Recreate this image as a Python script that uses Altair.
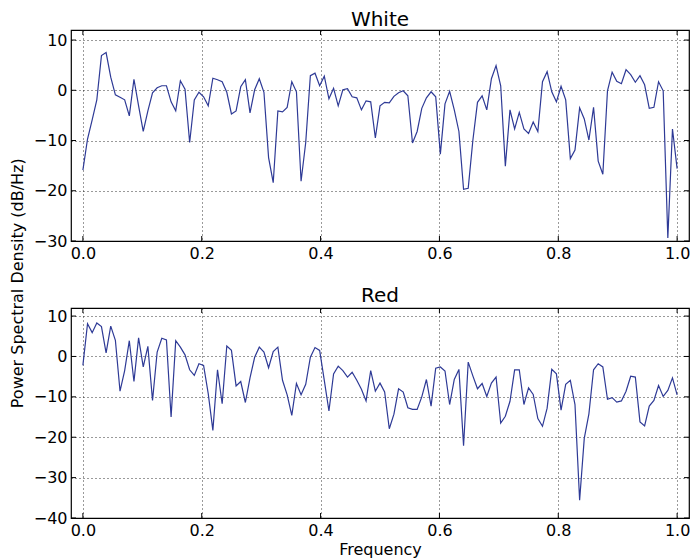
import altair as alt
import numpy as np
import pandas as pd

freq = list(np.linspace(0, 1, 129))

white_psd = [
    -15.9, -9.7, -5.9, -1.9, 6.9, 7.5, 2.6, -0.9, -1.4, -1.9,
    -5.1, 2.2, -3.1, -8.2, -4.1, -0.5, 0.5, 0.9, 0.9, -2.3,
    -4.1, 1.9, 0.2, -10.4, -1.9, -0.4, -1.3, -3.1, 2.4, 2.1,
    1.7, -0.4, -4.7, -4.1, 0.7, 2.1, -4.5, 0.1, 2.3, -0.4,
    -13.4, -18.4, -4.1, -4.3, -3.4, 1.7, -0.3, -18.1, -10.4, 2.9,
    3.4, 0.9, 2.8, -1.7, 0.4, -3.1, 0.1, 0.3, -1.3, -1.5,
    -3.9, -2.1, -2.3, -9.5, -3.1, -2.4, -2.5, -1.2, -0.5, -0.1,
    -1.1, -10.5, -8.2, -3.6, -1.5, -0.3, -1.3, -12.7, -2.7, -0.2,
    -3.9, -8.2, -19.7, -19.5, -10.0, -2.4, -1.1, -3.9, 2.3, 4.9,
    0.9, -15.1, -3.9, -7.7, -4.4, -7.7, -8.6, -6.3, -8.2, 1.7,
    3.7, -0.3, -2.3, 0.8, -1.9, -13.6, -11.9, -3.5, -5.7, -9.9,
    -3.4, -14.1, -16.7, -0.1, 3.6, 1.8, 1.3, 4.1, 3.1, 1.6,
    2.9, 1.1, -3.6, -3.4, 1.7, -0.1, -29.4, -7.7, -15.6,
]

red_psd = [
    -2.2, 8.1, 5.9, 8.3, 7.4, 0.9, 7.5, 4.0, -8.6, -3.5,
    3.9, -6.2, 4.6, -2.6, 2.5, -10.9, 1.1, 4.5, 4.1, -15.0,
    3.9, 2.3, 0.4, -3.3, -4.7, -1.8, -2.2, -9.2, -18.3, -3.3,
    -11.7, 2.6, 1.5, -7.3, -6.2, -11.4, -5.3, -0.2, 2.3, 1.1,
    -2.8, 1.2, 2.3, -5.9, -9.5, -14.6, -6.7, -9.5, -6.9, -0.2,
    2.2, 1.5, -5.9, -13.5, -4.3, -2.4, -3.5, -5.1, -3.9, -5.9,
    -8.1, -11.0, -3.5, -8.6, -6.6, -8.8, -17.9, -14.3, -8.0, -8.8,
    -12.7, -13.1, -13.1, -10.0, -5.7, -12.3, -2.9, -2.6, -3.6, -11.9,
    -5.7, -3.2, -22.1, -1.4, -4.8, -8.0, -6.7, -9.9, -6.6, -5.1,
    -16.5, -14.8, -11.1, -3.3, -3.3, -11.9, -7.8, -9.4, -15.4, -17.3,
    -12.8, -3.2, -4.3, -13.3, -6.9, -5.9, -11.9, -35.6, -20.3, -14.2,
    -3.3, -1.8, -2.6, -10.6, -10.2, -11.3, -11.0, -8.6, -4.9, -5.1,
    -16.2, -17.2, -12.3, -10.9, -7.2, -9.9, -8.4, -5.3, -9.5,
]

x_ticks = [0.0, 0.2, 0.4, 0.6, 0.8, 1.0]
white_y_ticks = [-30, -20, -10, 0, 10]
red_y_ticks = [-40, -30, -20, -10, 0, 10]

W = 618
LINE_COLOR = "#2e3a96"
FONT = "DejaVu Sans"


def panel(values, yticks, ydomain, height, title, xtitle, title_offset):
    df = pd.DataFrame({"f": freq, "v": values})
    xscale = alt.Scale(domain=[-0.02, 1.02], nice=False, zero=False)
    yscale = alt.Scale(domain=ydomain, nice=False, zero=False)
    xaxis = alt.Axis(values=x_ticks, format=".1f", title=xtitle)
    yaxis = alt.Axis(values=yticks, format="d", title=None)
    xenc = alt.X("f:Q", scale=xscale, axis=xaxis, title=xtitle)
    yenc = alt.Y("v:Q", scale=yscale, axis=yaxis, title=None)
    line = alt.Chart(df).mark_line(color=LINE_COLOR, strokeWidth=1.2).encode(
        x=xenc, y=yenc)
    xt = pd.DataFrame({"f": x_ticks})
    yt = pd.DataFrame({"v": yticks})
    tb = alt.Chart(xt).mark_rule(color="black", strokeWidth=1).encode(
        x=xenc, y=alt.value(height - 5), y2=alt.value(height))
    tt = alt.Chart(xt).mark_rule(color="black", strokeWidth=1).encode(
        x=xenc, y=alt.value(0), y2=alt.value(5))
    tl = alt.Chart(yt).mark_rule(color="black", strokeWidth=1).encode(
        y=yenc, x=alt.value(0), x2=alt.value(5))
    tr = alt.Chart(yt).mark_rule(color="black", strokeWidth=1).encode(
        y=yenc, x=alt.value(W - 5), x2=alt.value(W))
    return alt.layer(line, tb, tt, tl, tr).properties(
        width=W, height=height,
        title=alt.TitleParams(title, fontSize=20, font=FONT,
                              fontWeight="normal", offset=title_offset),
    )


top = panel(white_psd, white_y_ticks, [-30, 12], 211, "White", None, 0)
bottom = panel(red_psd, red_y_ticks, [-40, 12], 210, "Red", "Frequency", 2)

chart = alt.vconcat(top, bottom, spacing=22).properties(
    title=alt.TitleParams("Power Spectral Density (dB/Hz)", orient="left",
                          anchor="middle", fontSize=16, font=FONT,
                          fontWeight="normal", offset=7),
    padding={"left": 1, "top": 0, "right": 0, "bottom": 0},
).configure(font=FONT).configure_axis(
    labelFont=FONT, labelFontSize=16, labelColor="black",
    titleFont=FONT, titleFontSize=16, titleFontWeight="normal",
    titleColor="black", titlePadding=3,
    ticks=False, domain=False, labelPadding=4,
    grid=True, gridColor="black", gridDash=[1, 3], gridWidth=0.8,
    gridOpacity=1,
).configure_view(stroke="black", strokeWidth=1.2).configure_title(
    color="black"
)

chart.save("out.html", embed_options={"renderer": "svg", "actions": False})
